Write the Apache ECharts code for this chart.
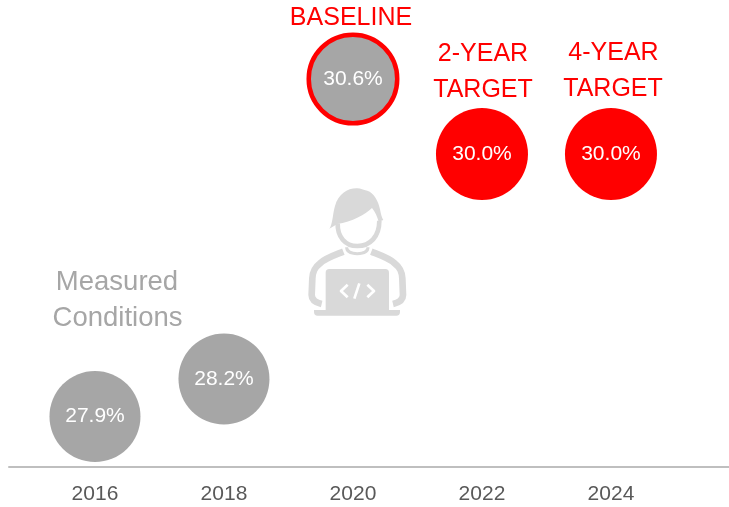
<!DOCTYPE html>
<html>
<head>
<meta charset="utf-8">
<style>html,body{margin:0;padding:0;background:#fff}#c{width:729px;height:507px}</style>
<script src="https://cdn.jsdelivr.net/npm/echarts@6/dist/echarts.min.js"></script>
</head>
<body>
<div id="c"></div>
<script>
const years = [2016, 2018, 2020, 2022, 2024];
const values = [27.9, 28.2, 30.6, 30.0, 30.0];
const circleFill = ['#a6a6a6', '#a6a6a6', '#a6a6a6', '#ff0000', '#ff0000'];
const circleBorder = [0, 0, 4.5, 0, 0];

const FONT = '"Liberation Sans", Arial, sans-serif';
const chart = echarts.init(document.getElementById('c'), null, {renderer: 'canvas'});

const ICON = '#d9d9d9';
let shapeId = 0;
function shapeOf(d) {
  const name = 'iconPart' + (shapeId++);
  echarts.graphic.registerShape(name, echarts.graphic.extendPath(d, {}));
  return name;
}
function p(d) {
  return {type: shapeOf(d), style: {fill: ICON}};
}
function s(d, w, color, cap) {
  return {type: shapeOf(d), style: {fill: 'none', stroke: color || ICON, lineWidth: w, lineCap: cap || 'butt', lineJoin: 'round'}};
}
const iconParts = [
  p('M148 176 C158 165 158 130 165 108 C175 72 203 54 232 55 C242 55 250 60 262 62 C282 68 296 95 300 118 C303 135 306 145 310 150 L296 155 C292 140 285 125 276 114 C258 132 215 156 172 162 Z'),
  s('M173 160 C172 200 195 228 232 228 C270 228 298 200 298 152', 14),
  s('M200 232 C200 244 210 251 232 251 C254 251 264 244 264 232', 9),
  s('M190 245 C165 255 135 265 120 280 C103 293 98 305 97 325 L95 375 C95 392 108 398 125 402', 20),
  s('M274 245 C299 255 329 265 344 280 C361 293 366 305 367 325 L369 375 C369 392 356 398 339 402', 20),
  p('M148 297 L316 297 Q327 297 327 308 L327 425 L137 425 L137 308 Q137 297 148 297 Z'),
  p('M102 420 L360 420 L360 426 Q360 437 349 437 L113 437 Q102 437 102 426 Z'),
  s('M203 344 L183 363 L203 382 M262 344 L282 363 L262 382 M238 340 L223 386', 8, '#ffffff')
];

const redText = {fill: '#ff0000', font: '25px ' + FONT, textAlign: 'center', textVerticalAlign: 'middle'};
const greyText = {fill: '#a6a6a6', font: '27.5px ' + FONT, textAlign: 'center', textVerticalAlign: 'middle'};
function txt(x, y, text, base) {
  return {type: 'text', x: x, y: y, style: Object.assign({}, base, {text: text})};
}

chart.setOption({
  animation: false,
  backgroundColor: '#fff',
  grid: {left: 9, right: 0, top: 0, bottom: 40},
  xAxis: {
    type: 'value',
    min: 2014.667,
    max: 2025.83,
    axisLine: {show: true, onZero: false, lineStyle: {color: '#bfbfbf', width: 2}},
    axisTick: {show: false},
    splitLine: {show: false},
    axisLabel: {
      customValues: years,
      color: '#595959',
      fontSize: 21,
      fontFamily: FONT,
      margin: 17,
      formatter: v => String(v)
    }
  },
  yAxis: {
    type: 'value',
    min: 27.496,
    max: 31.232,
    show: false,
    splitLine: {show: false}
  },
  series: [{
    type: 'scatter',
    symbol: 'circle',
    clip: false,
    data: years.map((y, i) => ({
      value: [y, values[i]],
      symbolSize: circleBorder[i] ? 88.5 : (i < 2 ? 91 : 92),
      itemStyle: {opacity: 1, color: circleFill[i], borderColor: '#ff0000', borderWidth: circleBorder[i]}
    })),
    label: {
      show: true,
      position: 'inside',
      color: '#ffffff',
      fontSize: 21,
      fontFamily: FONT,
      formatter: o => o.value[1].toFixed(1) + '%'
    }
  }],
  graphic: [
    {type: 'group', x: 280, y: 170, scaleX: 1 / 3, scaleY: 1 / 3, silent: true, children: iconParts},
    txt(351, 18, 'BASELINE', redText),
    txt(483, 54, '2-YEAR', redText),
    txt(483, 90, 'TARGET', redText),
    txt(613.5, 53, '4-YEAR', redText),
    txt(613, 89, 'TARGET', redText),
    txt(117, 282, 'Measured', greyText),
    txt(117.5, 318, 'Conditions', greyText)
  ]
});
</script>
</body>
</html>
